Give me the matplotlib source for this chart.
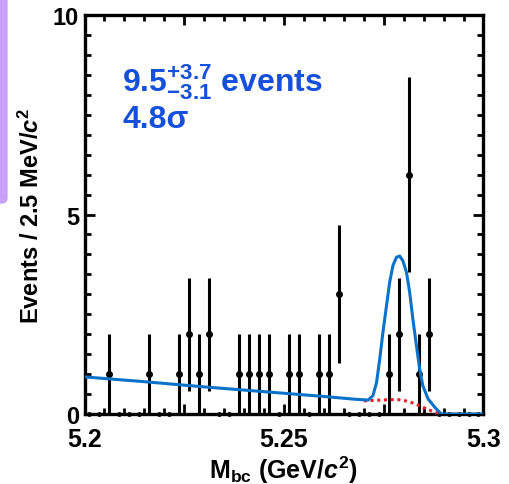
import numpy as np
import matplotlib.pyplot as plt
from matplotlib.patches import FancyBboxPatch
from matplotlib.ticker import MultipleLocator, FixedLocator, FixedFormatter

plt.rcParams['font.family'] = ['Liberation Sans', 'DejaVu Sans']
plt.rcParams['font.weight'] = 'bold'
plt.rcParams['axes.labelweight'] = 'bold'
plt.rcParams['mathtext.fontset'] = 'custom'
plt.rcParams['mathtext.rm'] = 'Liberation Sans:bold'
plt.rcParams['mathtext.bf'] = 'Liberation Sans:bold'
plt.rcParams['mathtext.it'] = 'Liberation Sans:bold:italic'

# data: 40 bins of 2.5 MeV between 5.20 and 5.30 GeV
bin_lo = 5.20
bin_w = 0.0025
counts = [0, 0, 1, 0, 0, 0, 1, 0, 0, 1,
          2, 1, 2, 0, 0, 1, 1, 1, 1, 0,
          1, 1, 0, 1, 1, 3, 0, 0, 0, 0,
          1, 2, 6, 1, 2, 0, 0, 0, 0, 0]

# total fit
fit_x = [5.2000, 5.2150, 5.2300, 5.2450, 5.2600, 5.2678, 5.2711, 5.2723,
         5.2732, 5.2740, 5.2748, 5.2757, 5.2765, 5.2773, 5.2782, 5.2790,
         5.2798, 5.2807, 5.2815, 5.2823, 5.2832, 5.2840, 5.2848, 5.2861,
         5.2878, 5.2894, 5.3000]
fit_y = [0.93, 0.81, 0.68, 0.56, 0.44, 0.37, 0.35, 0.46,
         0.79, 1.38, 2.05, 2.72, 3.31, 3.72, 3.93, 3.96,
         3.84, 3.55, 3.05, 2.38, 1.71, 1.13, 0.71, 0.38,
         0.17, 0.0, 0.0]

# background component in the signal region
bkg_x = [5.2700, 5.2725, 5.2744, 5.2765, 5.2786, 5.2805, 5.2819, 5.2832,
         5.2844, 5.2857, 5.2869, 5.2880, 5.2890]
bkg_y = [0.33, 0.34, 0.35, 0.36, 0.36, 0.33, 0.29, 0.24,
         0.19, 0.13, 0.08, 0.04, 0.0]

xticks = [5.2, 5.225, 5.25, 5.275, 5.3]
xticklabels = ['5.2', '', '5.25', '', '5.3']

counts = np.array(counts)
centers = bin_lo + bin_w * (np.arange(len(counts)) + 0.5)
nz = counts > 0

fig = plt.figure(figsize=(5.10, 4.85), dpi=100)
ax = fig.add_axes([0.1657, 0.1443, 0.7823, 0.8227])

# purple slide tab on the left edge
fig.patches.append(FancyBboxPatch((-0.02, 0.578), 0.035, 0.45,
                                  boxstyle='round,pad=0,rounding_size=0.012',
                                  transform=fig.transFigure, facecolor='#c9a0f7',
                                  edgecolor='none', zorder=0))

ax.errorbar(centers[nz], counts[nz], yerr=np.sqrt(counts[nz]), fmt='o', color='black',
            ms=4, elinewidth=2.2, capsize=0, zorder=3)
ax.plot(centers[~nz], counts[~nz], 'o', color='black', ms=2.5, zorder=3, clip_on=False)

ax.plot(bkg_x, bkg_y, color='#e8202a', lw=2.2, ls=(0, (1, 1.2)), zorder=4)
ax.plot(fit_x, fit_y, color='#0a72c8', lw=2.2, zorder=5)

ax.set_xlim(5.2, 5.3)
ax.set_ylim(0, 10)

ax.xaxis.set_major_locator(FixedLocator(xticks))
ax.xaxis.set_major_formatter(FixedFormatter(xticklabels))
ax.xaxis.set_minor_locator(MultipleLocator(0.005))
ax.yaxis.set_major_locator(FixedLocator([0, 5, 10]))
ax.yaxis.set_minor_locator(MultipleLocator(0.5))

ax.tick_params(which='both', direction='in', top=True, right=True, width=2)
ax.tick_params(which='major', length=7)
ax.tick_params(which='minor', length=4.5)
ax.tick_params(axis='x', labelsize=18, pad=9)
ax.tick_params(axis='y', labelsize=17, pad=4)
for s in ax.spines.values():
    s.set_linewidth(2.4)

ax.set_xlabel(r'M$_{\mathrm{bc}}$ (GeV/$\mathit{c}^{2}$)', fontsize=18, fontweight='bold', labelpad=2)
ax.set_ylabel(r'Events / 2.5 MeV/$\mathit{c}^{2}$', fontsize=17, fontweight='bold', labelpad=6)

ax.text(0.095, 0.835, r'$9.5^{+3.7}_{-3.1}$ events', transform=ax.transAxes,
        color='#1450dc', fontsize=23, fontweight='bold', va='center')
ax.text(0.095, 0.74, '4.8σ', transform=ax.transAxes,
        color='#1450dc', fontsize=23, fontweight='bold', va='center')

fig.savefig('out.png', dpi=100)
